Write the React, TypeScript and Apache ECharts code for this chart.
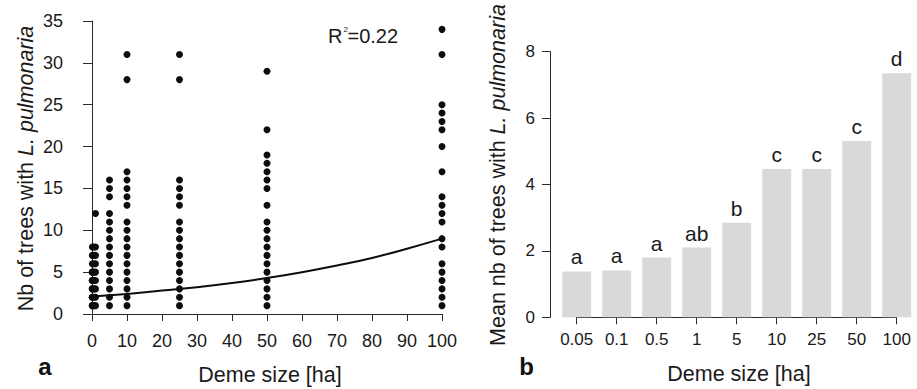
import React, { useEffect, useRef } from "react";
import * as echarts from "echarts";

// ---- Panel a: number of trees with L. pulmonaria per deme, by deme size ----
const demeSizesA = [0.05, 0.1, 0.5, 1, 5, 10, 25, 50, 100];
const trees005 = [1, 2, 3, 4, 5];
const trees01 = [1, 2, 3, 4, 5, 6, 7, 8];
const trees05 = [1, 2, 3, 4, 5, 6, 7, 8];
const trees1 = [1, 2, 3, 4, 5, 6, 7, 8, 12];
const trees5 = [1, 2, 3, 4, 5, 6, 7, 8, 9, 10, 11, 12, 14, 15, 16];
const trees10 = [1, 2, 3, 4, 5, 6, 7, 8, 9, 10, 11, 13, 14, 15, 16, 17, 28, 31];
const trees25 = [1, 2, 3, 4, 5, 6, 7, 8, 9, 10, 11, 13, 14, 15, 16, 28, 31];
const trees50 = [1, 2, 3, 4, 5, 6, 7, 8, 9, 10, 11, 13, 15, 16, 17, 18, 19, 22, 29];
const trees100 = [1, 2, 3, 4, 5, 6, 8, 9, 11, 12, 13, 14, 17, 20, 22, 23, 24, 25, 31, 34];
const treesPerDeme = [trees005, trees01, trees05, trees1, trees5, trees10, trees25, trees50, trees100];

// fitted curve
const trendX = [0, 10, 20, 30, 40, 50, 60, 70, 80, 90, 100];
const trendY = [2.1, 2.4, 2.8, 3.2, 3.7, 4.3, 5.0, 5.8, 6.7, 7.8, 9.0];

const xTicksA = [0, 100, 10];
const yTicksA = [0, 35, 5];

// ---- Panel b: mean number of trees per deme-size class ----
const barCategories = ["0.05", "0.1", "0.5", "1", "5", "10", "25", "50", "100"];
const meanTrees = [1.38, 1.41, 1.8, 2.1, 2.85, 4.47, 4.47, 5.31, 7.35];
const groupLetters = ["a", "a", "a", "ab", "b", "c", "c", "c", "d"];
const yTicksB = [0, 8, 2];

const FONT = '"Liberation Sans", Arial, Helvetica, sans-serif';
const TXT = "#1a1a1a";
const AX = "#2a2a2a";

export default function App() {
  const ref = useRef<HTMLDivElement>(null);

  useEffect(() => {
    if (!ref.current) return;
    const chart = echarts.init(ref.current, undefined, { renderer: "svg" });

    const scatterData: number[][] = [];
    treesPerDeme.forEach((vals, i) => {
      vals.forEach((v) => scatterData.push([demeSizesA[i], v]));
    });
    const trendData = trendX.map((x, i) => [x, trendY[i]]);

    const axisLine = { show: true, lineStyle: { color: AX, width: 1 } };
    const tickStyle = { color: AX, width: 1 };

    const option: any = {
      animation: false,
      backgroundColor: "#ffffff",
      textStyle: { fontFamily: FONT },
      grid: [
        { left: 92, top: 21, width: 350, height: 293 },
        { left: 576.7, top: 51.7, width: 320, height: 265.6 },
      ],
      xAxis: [
        {
          type: "value",
          gridIndex: 0,
          min: xTicksA[0],
          max: xTicksA[1],
          interval: xTicksA[2],
          offset: 4,
          axisLine,
          axisTick: { show: true, length: 7, lineStyle: tickStyle },
          axisLabel: { fontSize: 18, color: TXT, margin: 14, fontFamily: FONT },
          splitLine: { show: false },
        },
        {
          type: "category",
          gridIndex: 1,
          data: barCategories,
          boundaryGap: false,
          axisLine,
          axisTick: { show: true, length: 7, interval: 0, lineStyle: tickStyle },
          axisLabel: { fontSize: 17, color: TXT, margin: 14, interval: 0, fontFamily: FONT },
          splitLine: { show: false },
        },
      ],
      yAxis: [
        {
          type: "value",
          gridIndex: 0,
          min: yTicksA[0],
          max: yTicksA[1],
          interval: yTicksA[2],
          offset: 13,
          axisLine,
          axisTick: { show: true, length: 9, lineStyle: tickStyle },
          axisLabel: { fontSize: 18, color: TXT, margin: 16, fontFamily: FONT },
          splitLine: { show: false },
        },
        {
          type: "value",
          gridIndex: 1,
          min: yTicksB[0],
          max: yTicksB[1],
          interval: yTicksB[2],
          offset: 26.7,
          axisLine,
          axisTick: { show: true, length: 8, lineStyle: tickStyle },
          axisLabel: { fontSize: 17, color: TXT, margin: 15, fontFamily: FONT },
          splitLine: { show: false },
        },
      ],
      series: [
        {
          type: "scatter",
          xAxisIndex: 0,
          yAxisIndex: 0,
          data: scatterData,
          symbol: "circle",
          symbolSize: 7,
          clip: false,
          itemStyle: { color: "#0d0d0d", opacity: 1 },
        },
        {
          type: "line",
          xAxisIndex: 0,
          yAxisIndex: 0,
          data: trendData,
          smooth: true,
          showSymbol: false,
          clip: false,
          lineStyle: { color: "#0d0d0d", width: 2 },
        },
        {
          type: "bar",
          xAxisIndex: 1,
          yAxisIndex: 1,
          data: meanTrees,
          barWidth: 29,
          clip: false,
          itemStyle: { color: "#d9d9d9" },
          label: {
            show: true,
            position: "top",
            distance: 4,
            fontSize: 21,
            color: TXT,
            fontFamily: FONT,
            formatter: (p: any) => groupLetters[p.dataIndex],
          },
        },
      ],
      graphic: [
        {
          type: "text",
          x: 25.5,
          y: 168.5,
          rotation: Math.PI / 2,
          style: {
            text: "{n|Nb of trees with }{i|L. pulmonaria}",
            align: "center",
            verticalAlign: "middle",
            rich: {
              n: { fontSize: 21.5, fontFamily: FONT, fill: TXT },
              i: { fontSize: 21.5, fontFamily: FONT, fill: TXT, fontStyle: "italic" },
            },
          },
        },
        {
          type: "text",
          x: 497.5,
          y: 175,
          rotation: Math.PI / 2,
          style: {
            text: "{n|Mean nb of trees with }{i|L. pulmonaria}",
            align: "center",
            verticalAlign: "middle",
            rich: {
              n: { fontSize: 21.5, fontFamily: FONT, fill: TXT },
              i: { fontSize: 21.5, fontFamily: FONT, fill: TXT, fontStyle: "italic" },
            },
          },
        },
        {
          type: "text",
          x: 270,
          y: 375,
          style: { text: "Deme size [ha]", align: "center", verticalAlign: "middle", fontSize: 21.5, fontFamily: FONT, fill: TXT },
        },
        {
          type: "text",
          x: 739,
          y: 374,
          style: { text: "Deme size [ha]", align: "center", verticalAlign: "middle", fontSize: 21.5, fontFamily: FONT, fill: TXT },
        },
        {
          type: "text",
          x: 45,
          y: 366.5,
          style: { text: "a", align: "center", verticalAlign: "middle", fontSize: 24, fontWeight: "bold", fontFamily: FONT, fill: "#111" },
        },
        {
          type: "text",
          x: 526.7,
          y: 366.5,
          style: { text: "b", align: "center", verticalAlign: "middle", fontSize: 24, fontWeight: "bold", fontFamily: FONT, fill: "#111" },
        },
        {
          type: "text",
          x: 328,
          y: 35.7,
          style: { text: "R", align: "left", verticalAlign: "middle", fontSize: 20, fontFamily: FONT, fill: TXT },
        },
        {
          type: "text",
          x: 343.5,
          y: 29,
          style: { text: "2", align: "left", verticalAlign: "middle", fontSize: 8, fontFamily: FONT, fill: TXT },
        },
        {
          type: "text",
          x: 347.5,
          y: 35.7,
          style: { text: "=0.22", align: "left", verticalAlign: "middle", fontSize: 20, fontFamily: FONT, fill: TXT },
        },
      ],
    };

    chart.setOption(option);
    return () => chart.dispose();
  }, []);

  return (
    <div
      ref={ref}
      style={{ position: "fixed", left: 0, top: 0, width: 917, height: 389, background: "#fff" }}
    />
  );
}
